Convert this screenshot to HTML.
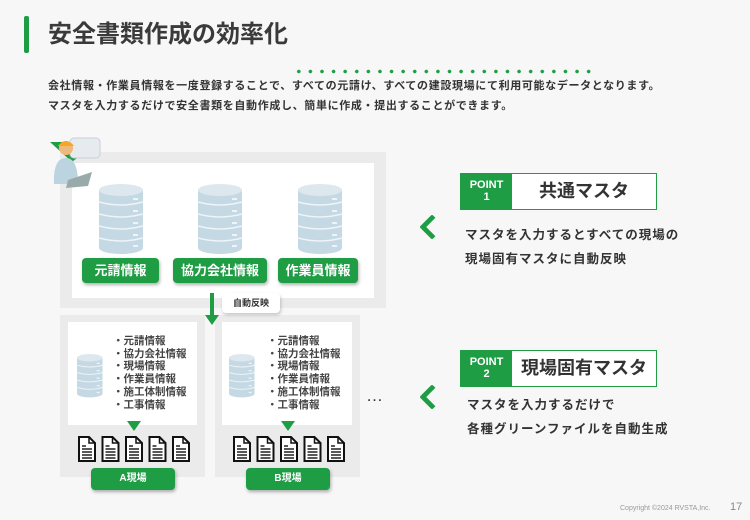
<!DOCTYPE html>
<html><head><meta charset="utf-8"><style>
*{margin:0;padding:0;box-sizing:border-box}
body{width:750px;height:520px;background:#f7f7f7;position:relative;overflow:hidden;font-family:"Liberation Sans","Noto Sans CJK JP",sans-serif;color:#333}
.a{position:absolute}
.btn{position:absolute;background:#1f9d45;color:#fff;font-weight:bold;border-radius:4px;text-align:center;box-shadow:1px 2px 3px rgba(0,0,0,.3)}
.list{position:absolute;font-size:10.5px;line-height:12.7px;font-weight:bold;color:#444}
.pt{position:absolute;width:197px;height:37px;border:1.5px solid #1f9d45;background:#fff}
.pt .g{position:absolute;left:0;top:0;width:51px;height:100%;background:#1f9d45;color:#fff;font-weight:bold;font-size:11px;line-height:12px;text-align:center;padding-top:5px}
.pt .t{position:absolute;left:51px;right:0;top:0;height:100%;font-size:18px;font-weight:bold;text-align:center;line-height:34px;color:#333}
.desc{position:absolute;font-size:12.5px;font-weight:bold;color:#333;line-height:24px;letter-spacing:1px}
.chev{position:absolute;width:18px;height:18px;border-left:5px solid #1f9d45;border-bottom:5px solid #1f9d45;transform:rotate(45deg);border-radius:2px}
</style></head><body>
<svg width="0" height="0" style="position:absolute"><defs>
<g id="db">
<rect x="0" y="6" width="44" height="58" fill="#c5d9e4"/>
<ellipse cx="22" cy="64" rx="22" ry="6" fill="#c5d9e4"/>
<ellipse cx="22" cy="6" rx="22" ry="6" fill="#dde8ee"/>
<g stroke="#eef4f7" stroke-width="1.5" fill="none">
<path d="M0 18 Q22 24 44 18"/><path d="M0 30 Q22 36 44 30"/><path d="M0 42 Q22 48 44 42"/><path d="M0 54 Q22 60 44 54"/></g>
<g fill="#eef4f7"><rect x="34" y="14" width="5" height="2"/><rect x="34" y="26" width="5" height="2"/><rect x="34" y="38" width="5" height="2"/><rect x="34" y="50" width="5" height="2"/><rect x="34" y="61" width="5" height="2"/></g>
</g>
<g id="doc"><path d="M1 1 H11 L17 7 V25 H1 Z" fill="#fff" stroke="#111" stroke-width="2"/><path d="M11 1 V7 H17" fill="none" stroke="#111" stroke-width="1.5"/>
<g stroke="#111" stroke-width="1.4"><line x1="4" y1="10" x2="8" y2="10"/><line x1="4" y1="13" x2="14" y2="13"/><line x1="4" y1="16" x2="14" y2="16"/><line x1="4" y1="19" x2="14" y2="19"/><line x1="4" y1="22" x2="14" y2="22"/></g></g>
</defs></svg>

<div class="a" style="left:24px;top:16px;width:5px;height:37px;background:#1f9d45;border-radius:2px"></div>
<div class="a" style="left:48px;top:18px;font-size:24px;font-weight:bold;color:#3a3a3a;line-height:34px">安全書類作成の効率化</div>
<div class="a" style="left:293px;top:69px;width:300px;height:5px;background:radial-gradient(circle,#1f9d45 1.6px,transparent 2px) 0 0/11.6px 5px repeat-x"></div>
<div class="a" style="left:48px;top:76px;font-size:11px;font-weight:bold;line-height:20px;letter-spacing:.65px;color:#333;white-space:nowrap">会社情報・作業員情報を一度登録することで、すべての元請け、すべての建設現場にて利用可能なデータとなります。<br>マスタを入力するだけで安全書類を自動作成し、簡単に作成・提出することができます。</div>

<div class="a" style="left:60px;top:152px;width:326px;height:156px;background:#ebebeb"></div>
<div class="a" style="left:72px;top:163px;width:302px;height:135px;background:#fff"></div>
<svg class="a" style="left:48px;top:134px" width="60" height="62">
<path d="M2 8 H40 L24 28 Z" fill="#1f9d45"/><path d="M40 8 L24 28 L50 8 Z" fill="#1f9d45"/>
<rect x="22" y="4" width="30" height="20" rx="4" fill="#e6ebee" stroke="#ccd" />
<circle cx="18" cy="14" r="7" fill="#f0b87a"/><path d="M10 12 Q18 2 26 12 Z" fill="#f5a623"/>
<path d="M6 50 Q5 24 18 24 Q30 24 30 50 Z" fill="#bcd3e0"/>
<path d="M20 46 L44 38 L40 52 L18 54 Z" fill="#9aa"/>
</svg>
<svg class="a" style="left:99px;top:184px" width="44" height="72"><use href="#db"/></svg>
<svg class="a" style="left:198px;top:184px" width="44" height="72"><use href="#db"/></svg>
<svg class="a" style="left:298px;top:184px" width="44" height="72"><use href="#db"/></svg>
<div class="btn" style="left:82px;top:258px;width:77px;height:25px;font-size:13px;line-height:25px">元請情報</div>
<div class="btn" style="left:173px;top:258px;width:94px;height:25px;font-size:13px;line-height:25px">協力会社情報</div>
<div class="btn" style="left:278px;top:258px;width:80px;height:25px;font-size:13px;line-height:25px">作業員情報</div>

<div class="a" style="left:60px;top:315px;width:145px;height:162px;background:#ebebeb"></div>
<div class="a" style="left:68px;top:322px;width:129px;height:103px;background:#fff"></div>
<div class="a" style="left:215px;top:315px;width:145px;height:162px;background:#ebebeb"></div>
<div class="a" style="left:222px;top:322px;width:130px;height:103px;background:#fff"></div>

<div class="a" style="left:210px;top:293px;width:4px;height:24px;background:#1f9d45"></div>
<div class="a" style="left:205px;top:315px;width:0;height:0;border-left:7px solid transparent;border-right:7px solid transparent;border-top:10px solid #1f9d45"></div>
<div class="a" style="left:222px;top:293px;width:58px;height:20px;background:#fff;border-radius:4px;box-shadow:1px 2px 3px rgba(0,0,0,.2);font-size:9px;font-weight:bold;text-align:center;line-height:20px">自動反映</div>

<svg class="a" style="left:77px;top:354px" width="26" height="46"><g transform="scale(.58,.62)"><use href="#db"/></g></svg>
<svg class="a" style="left:229px;top:354px" width="26" height="46"><g transform="scale(.58,.62)"><use href="#db"/></g></svg>
<div class="list" style="left:113px;top:335px">・元請情報<br>・協力会社情報<br>・現場情報<br>・作業員情報<br>・施工体制情報<br>・工事情報</div>
<div class="list" style="left:267px;top:335px">・元請情報<br>・協力会社情報<br>・現場情報<br>・作業員情報<br>・施工体制情報<br>・工事情報</div>
<div class="a" style="left:127px;top:421px;border-left:7px solid transparent;border-right:7px solid transparent;border-top:10px solid #1f9d45"></div>
<div class="a" style="left:281px;top:421px;border-left:7px solid transparent;border-right:7px solid transparent;border-top:10px solid #1f9d45"></div>
<svg class="a" style="left:78px;top:436px" width="120" height="28">
<use href="#doc" x="0"/><use href="#doc" x="23.5"/><use href="#doc" x="47"/><use href="#doc" x="70.5"/><use href="#doc" x="94"/></svg>
<svg class="a" style="left:233px;top:436px" width="120" height="28">
<use href="#doc" x="0"/><use href="#doc" x="23.5"/><use href="#doc" x="47"/><use href="#doc" x="70.5"/><use href="#doc" x="94"/></svg>
<div class="btn" style="left:91px;top:468px;width:84px;height:22px;font-size:10px;line-height:22px">A現場</div>
<div class="btn" style="left:246px;top:468px;width:84px;height:22px;font-size:10px;line-height:22px">B現場</div>
<div class="a" style="left:366px;top:386px;font-size:17px;color:#333">…</div>

<div class="pt" style="left:460px;top:173px"><div class="g">POINT<br>1</div><div class="t">共通マスタ</div></div>
<div class="chev" style="left:423px;top:218px"></div>
<div class="desc" style="left:465px;top:223px">マスタを入力するとすべての現場の<br>現場固有マスタに自動反映</div>
<div class="pt" style="left:460px;top:350px"><div class="g">POINT<br>2</div><div class="t">現場固有マスタ</div></div>
<div class="chev" style="left:423px;top:388px"></div>
<div class="desc" style="left:467px;top:393px">マスタを入力するだけで<br>各種グリーンファイルを自動生成</div>

<div class="a" style="left:620px;top:505px;font-size:7px;color:#999">Copyright ©2024 RVSTA,Inc.</div>
<div class="a" style="left:730px;top:501px;font-size:11px;color:#888">17</div>
</body></html>
